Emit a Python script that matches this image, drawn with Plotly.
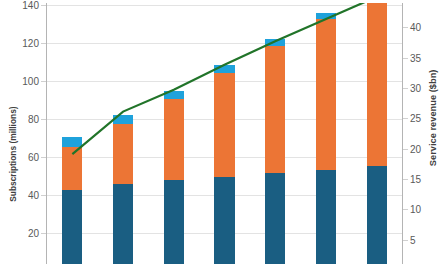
import plotly.graph_objects as go

categories = ["2018", "2019", "2020", "2021", "2022", "2023", "2024"]
series_a = [43.0, 46.0, 48.0, 50.0, 51.9, 53.6, 55.4]
series_b = [22.5, 32.0, 43.0, 54.7, 67.1, 79.6, 92.0]
series_c = [5.6, 4.4, 4.1, 4.2, 3.8, 3.1, 4.0]
revenue = [19.2, 26.2, 29.8, 33.9, 37.8, 41.4, 45.1]

left_ticks = [20, 40, 60, 80, 100, 120, 140]
right_ticks = [5, 10, 15, 20, 25, 30, 35, 40]

FONT = "Liberation Sans, Arial, sans-serif"
TICKCOL = "#595959"

fig = go.Figure()
fig.add_trace(go.Bar(x=categories, y=series_a, marker=dict(color="#1a5e82", line=dict(width=0)), name="A"))
fig.add_trace(go.Bar(x=categories, y=series_b, marker=dict(color="#ec7535", line=dict(width=0)), name="B"))
fig.add_trace(go.Bar(x=categories, y=series_c, marker=dict(color="#1fa2db", line=dict(width=0)), name="C"))
fig.add_trace(go.Scatter(x=categories, y=revenue, mode="lines", yaxis="y2",
                         line=dict(color="#217429", width=2.2), name="Revenue"))

fig.update_layout(
    width=440, height=264,
    margin=dict(l=47, r=38, t=0, b=0),
    barmode="stack", bargap=0.605,
    showlegend=False,
    plot_bgcolor="white", paper_bgcolor="white",
    font=dict(family=FONT, size=10, color=TICKCOL),
    xaxis=dict(type="category", range=[-0.5, 6.5], showticklabels=False, ticks="",
               showgrid=False, showline=False, zeroline=False, fixedrange=True),
    yaxis=dict(range=[4.0, 141.5], tickvals=left_ticks, ticks="outside", ticklen=5,
               tickcolor="#d0d0d0", showgrid=True, gridcolor="#e3e3e3", gridwidth=1,
               showline=True, linecolor="#b4b4b4", linewidth=1, zeroline=False,
               ticklabeloverflow="allow",
               tickfont=dict(family=FONT, size=10, color=TICKCOL)),
    yaxis2=dict(range=[1.09, 44.09], tickvals=right_ticks, overlaying="y", side="right",
                ticks="outside", ticklen=5, tickcolor="#d0d0d0", showgrid=False,
                showline=True, linecolor="#b4b4b4", linewidth=1, zeroline=False,
                ticklabeloverflow="allow",
                tickfont=dict(family=FONT, size=10, color=TICKCOL)),
    annotations=[
        dict(text="<b>Subscriptions (millions)</b>", xref="paper", yref="paper",
             x=(13.5 - 47) / 355, y=(264 - 153) / 264, textangle=-90, showarrow=False,
             xanchor="center", yanchor="middle",
             font=dict(family=FONT, size=8.4, color="#404040")),
        dict(text="<b>Service revenue ($bn)</b>", xref="paper", yref="paper",
             x=(433 - 47) / 355, y=(264 - 116.5) / 264, textangle=-90, showarrow=False,
             xanchor="center", yanchor="middle",
             font=dict(family=FONT, size=9.3, color="#404040")),
    ],
)

fig.write_html("out.html")
